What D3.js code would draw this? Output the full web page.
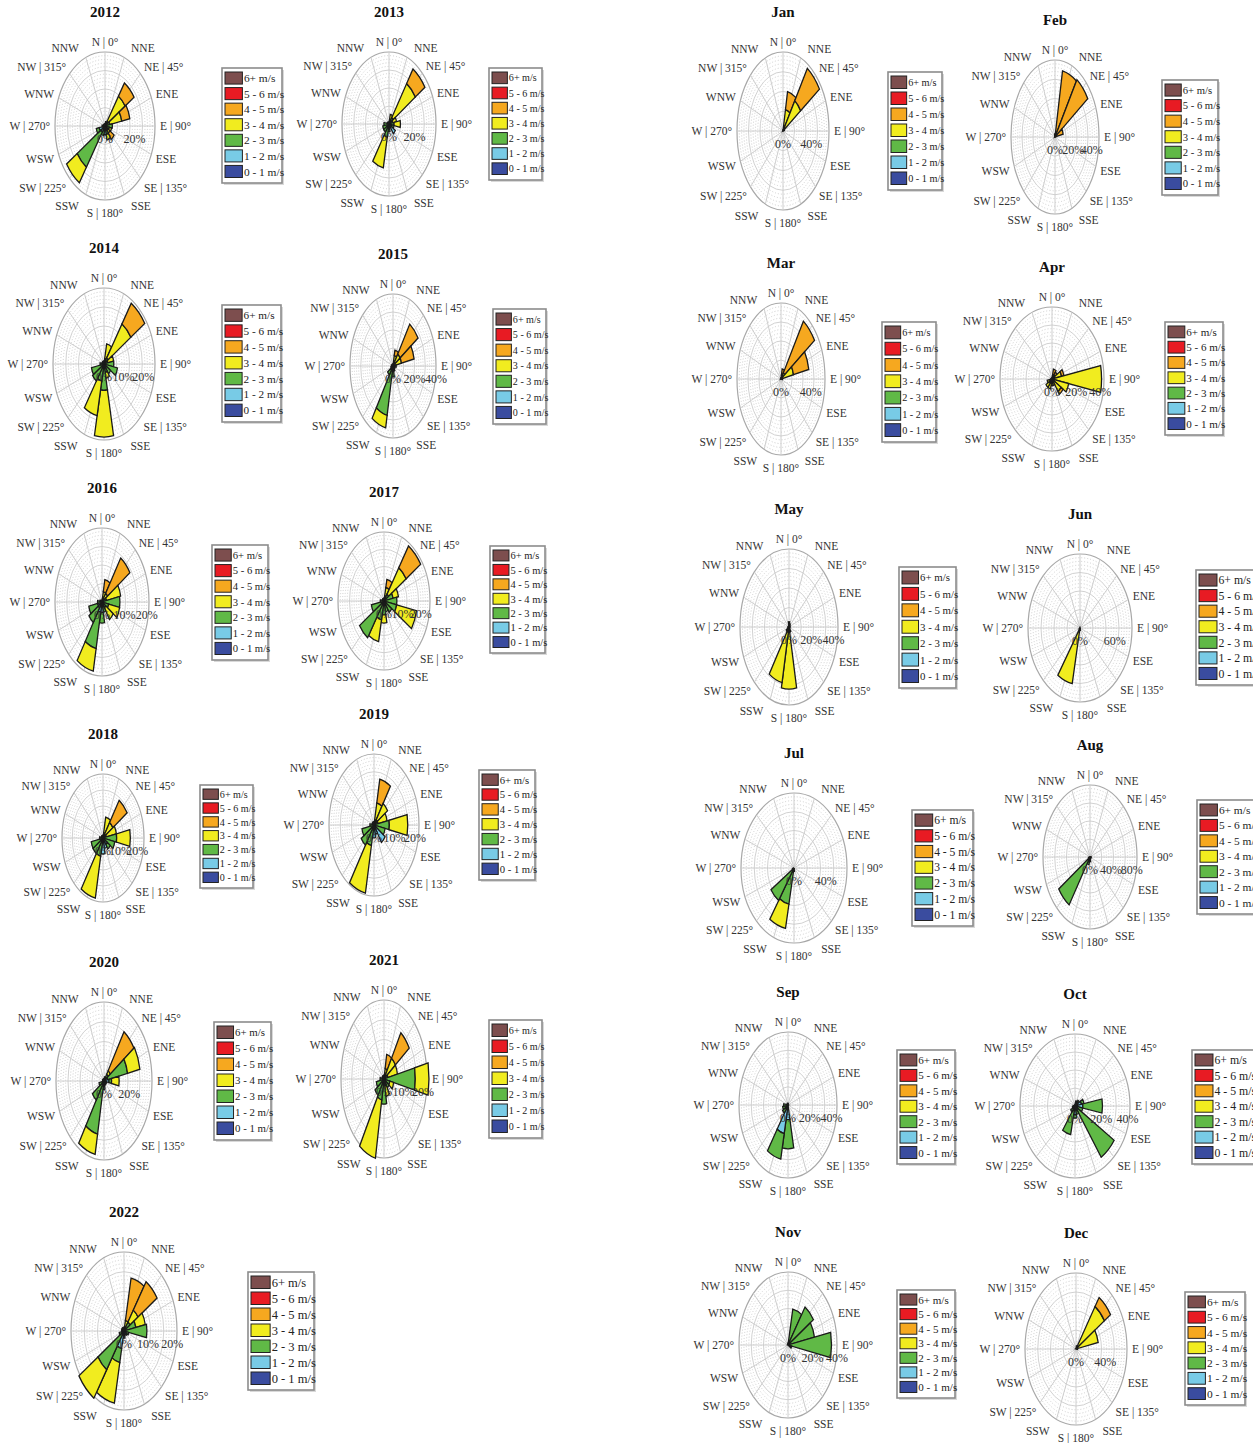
<!DOCTYPE html>
<html>
<head>
  <meta charset="utf8">
  <script src="https://d3js.org/d3.v7.min.js"></script>
  <style>
    body { margin: 0; background: #fff; }
    text { font-family: "Liberation Serif", "DejaVu Serif", serif; fill: #333; }
    .title { font-size: 15px; font-weight: bold; fill: #111; text-anchor: middle; }
    .dir { font-size: 11.5px; }
    .tick { font-size: 12px; text-anchor: middle; }
    .legend text { fill: #222; }
  </style>
</head>
<body>
  <svg id="chart" width="1253" height="1443"></svg>
  <script>
    // compass directions, clockwise from north
    var directions = ['N', 'NNE', 'NE', 'ENE', 'E', 'ESE', 'SE', 'SSE', 'S', 'SSW', 'SW', 'WSW', 'W', 'WNW', 'NW', 'NNW'];
    var dirLabels = ['N | 0°', 'NNE', 'NE | 45°', 'ENE', 'E | 90°', 'ESE', 'SE | 135°', 'SSE',
      'S | 180°', 'SSW', 'SW | 225°', 'WSW', 'W | 270°', 'WNW', 'NW | 315°', 'NNW'];
    var speedBins = ['0 - 1 m/s', '1 - 2 m/s', '2 - 3 m/s', '3 - 4 m/s', '4 - 5 m/s', '5 - 6 m/s', '6+ m/s'];

    var panels = ['2012', '2013', '2014', '2015', '2016', '2017', '2018', '2019', '2020', '2021', '2022',
      'Jan', 'Feb', 'Mar', 'Apr', 'May', 'Jun', 'Jul', 'Aug', 'Sep', 'Oct', 'Nov', 'Dec'];

    // frequency (%) per direction, split by speed bin: [0-1, 1-2, 2-3, 3-4, 4-5, 5-6, 6+]
    var rose2012 = [[0,0,1],[0,0,2],[0,0,2.6,13.9,7.3],[0,0,3.3,8.3,5.6],[0,0,5],[0,0,3,1.5],[0,0,2.5,1.5,3.5],[0,1.5,2.5,2.5],
      [0,4],[0,2.5,2],[0,3.3,19.5,8.6],[0,4,2],[0,0,2],[0,0,1],[0,0,1],[0,0,1]];
    var rose2013 = [[0,0,1],[0,0,2,3],[0,0,4,21,9],[0,0,3,3],[0,0,4,5],[0,2,2],[0,6],[0,2],
      [0,2,2],[0,0,7,16],[0,1,4],[0,1,4],[0,0,4],[0,0,1.5],[0,0,1],[0,0,1]];
    var rose2014 = [[0,0,1],[0,0,2,5],[0,0,2.5,14,8.5],[0,0,2,3],[0,0,5],[0,0,7],[0,0,4],[0,0,3,2],
      [0,0,9,16],[0,0,6,12],[0,0,7],[0,0,6.5],[0,0,2],[0,0,1],[0,0,1],[0,0,1]];
    var rose2015 = [[0,0,1],[0,0,3,3,3],[0,0,2,6,20],[0,0,2,6,12],[0,0,3],[0,0,2],[0,0,2],[0,1,2],
      [0,2,4],[0,2,26,7],[0,1,5],[0,0,2],[0,0,1.5],[0,0,1],[0,0,1],[0,0,1]];
    var rose2016 = [[0,0,0.5],[0,0,1,2,3.5],[0,0,1,2,12],[0,0,2,6.5],[0,0,8],[0,0,3,5],[0,0,2,4],[0,1,2],
      [0,3,3],[0,3,10.5,6.5],[0,2,5],[0,2,4],[0,0,2],[0,0,1],[0,0,0.5],[0,0,0.5]];
    var rose2017 = [[0,0,1],[0,0,2,3,3],[0,0,3,11.5,9.5],[0,0,5,3],[0,0,7],[0,0,7,11],[0,1,4],[0,1,3],
      [0,1,4,3],[0,0,7,8],[0,0,16],[0,1,6],[0,0,2],[0,0,1],[0,0,1],[0,0,1]];
    var rose2018 = [[0,0,1],[0,0,2,6],[0,0,1,6,10],[0,0,2,6],[0,0,8,8],[0,0,7],[0,3,2],[0,4],
      [0,6],[0,1,6,16],[0,0,7],[0,1,6],[0,0,2],[0,0,1],[0,0,1],[0,0,1]];
    var rose2019 = [[0,0,1],[0,0,1,6,7.5],[0,0,2,6],[0,0,2,4.5],[0,0,7.5,9],[0,0,5.5],[0,6.5],[0,3],
      [0,4],[0,0,6.5,15],[0,0,7.5],[0,1,5],[0,0,2],[0,0,1],[0,0,1],[0,0,1]];
    var rose2020 = [[0,0,1],[0,0,2],[0,2,2,2,22.5],[0,3,16,10],[0,4,2,6],[0,2],[0,2],[0,2],
      [0,4],[0,2,24,10],[0,2,9],[0,1,3],[0,0,1],[0,0,1],[0,0,1],[0,0,1]];
    var rose2021 = [[0,0,1],[0,0,1,2,4],[0,0,1,6,8.5],[0,0,2,5],[0,0,16,7],[0,0,3,2],[0,0,3],[0,0,2,3],
      [0,0,7],[0,0,6,16.5],[0,0,5.5],[0,0,4],[0,0,2],[0,0,1],[0,0,1],[0,0,1]];
    var rose2022 = [[0,0,1],[0,0,1,2,12],[0,0,3,4,9.5],[0,0,5,4],[0,0,9.5],[0,0,2],[0,0,1.5],[0,1],
      [0,2],[0,5,4,11.5],[0,1,12,9.5],[0,0,2],[0,0,1],[0,0,1],[0,0,1],[0,0,1]];
    var roseJan = [[0,0,0,1],[0,0,0,18,15],[0,0,0,30,32],[0,0,0,2],[],[],[],[],
      [],[],[],[],[],[],[],[]];
    var roseFeb = [[0,0,1,1],[0,0,0,1,41],[0,0,0,1,42],[0,0,0,1,8],[],[],[],[],
      [],[],[],[],[],[],[],[]];
    var roseMar = [[0,0,0,1],[0,0,0,3,5],[0,0,0,6,48],[0,0,0,17,21],[0,0,0,2],[],[],[],
      [],[],[],[],[],[],[],[]];
    var roseApr = [[0,0,0,1],[0,0,0,2,4],[0,0,0,3,2],[0,0,0,8,2],[0,0,2,39],[0,0,1,13],[0,0,1,8,2],[0,0,0,4],
      [0,0,1,3],[0,0,2,4],[0,0,3,3],[0,0,2,2],[0,0,0,1],[],[],[]];
    var roseMay = [[0,0,1,2],[0,0,1,1],[0,0,1],[0,0,0.5],[0,0,0.5],[0,0,0.5],[0,0,0.5],[0,0,1,2],
      [0,0,3,32],[0,0,3,29],[0,0,1,2],[0,0,0.5],[0,0,0.5],[0,0,0.5],[0,0,0.5],[0,0,0.5]];
    var roseJun = [[0,0,0,1],[],[],[],[],[],[],[],
      [0,0,0,3],[0,0,1,68],[0,0,0,2],[],[],[],[],[]];
    var roseJul = [[],[],[],[],[],[],[],[],
      [0,0,3],[0,0,33,22],[0,0,35],[0,0,2],[],[],[],[]];
    var roseAug = [[],[],[],[],[0,0,2],[0,0,2],[],[0,0,2],
      [0,0,6],[0,0,10],[0,0,72],[0,0,3],[],[],[],[]];
    var roseSep = [[0,0,1],[],[],[],[],[],[],[],
      [0,9,18],[0,18,16],[0,3,3],[0,2,3],[0,1,3],[],[0,0,1],[0,0,1]];
    var roseOct = [[0,1],[0,2,1],[0,3,1],[0,5,2],[0,6,15],[0,2,4],[0,2,34],[0,3,2],
      [0,5,2],[0,3,14],[0,2,2],[0,1,1],[0,1,0.5],[],[],[]];
    var roseNov = [[0,0,1],[0,0,20],[0,0,25],[0,0,22],[0,0,35.5],[0,0,3],[],[],
      [],[],[],[],[],[],[],[]];
    var roseDec = [[],[0,0,0,3],[0,0,0,47,10],[0,0,0,31],[0,0,0,2],[],[],[],
      [],[],[],[],[],[],[],[]];

    var roseData = [rose2012, rose2013, rose2014, rose2015, rose2016, rose2017, rose2018, rose2019, rose2020,
      rose2021, rose2022, roseJan, roseFeb, roseMar, roseApr, roseMay, roseJun, roseJul, roseAug, roseSep,
      roseOct, roseNov, roseDec];

    // outer circle value (%) and the labelled frequencies of each rose
    var axisMax = [34, 37, 26, 40, 21, 25, 24, 22, 38, 22, 22, 65, 48, 59, 43, 44, 90, 67, 90, 45, 42, 40, 70];
    var tickLabels = [[0, 20], [0, 20], [0, 10, 20], [0, 20, 40], [0, 10, 20], [0, 10, 20], [0, 10, 20], [0, 10, 20],
      [0, 20], [0, 10, 20], [0, 10, 20], [0, 40], [0, 20, 40], [0, 40], [0, 20, 40], [0, 20, 40], [0, 60], [0, 40],
      [0, 40, 80], [0, 20, 40], [0, 20, 40], [0, 20, 40], [0, 40]];

    var colors = ['#3a4c9f', '#78cbe6', '#60b946', '#f1ec1f', '#f6a81f', '#e81b23', '#7d4e4e'];

    // page layout: rose centre and radii (the roses are squeezed sideways), legend box
    var layout = [
      { cx: 105, cy: 126, rx: 50, ry: 74, lx: 222, ly: 68, lw: 60, lh: 115 },
      { cx: 389, cy: 124, rx: 47, ry: 72, lx: 489, ly: 68, lw: 53, lh: 112 },
      { cx: 104, cy: 364, rx: 51, ry: 76, lx: 222, ly: 305, lw: 59, lh: 117 },
      { cx: 393, cy: 366, rx: 43, ry: 72, lx: 493, ly: 309, lw: 53, lh: 115 },
      { cx: 102, cy: 602, rx: 47, ry: 74, lx: 212, ly: 545, lw: 56, lh: 115 },
      { cx: 384, cy: 601, rx: 46, ry: 69, lx: 490, ly: 546, lw: 55, lh: 107 },
      { cx: 103, cy: 838, rx: 41, ry: 64, lx: 200, ly: 785, lw: 53, lh: 103 },
      { cx: 374, cy: 825, rx: 45, ry: 71, lx: 479, ly: 770, lw: 56, lh: 110 },
      { cx: 104, cy: 1081, rx: 48, ry: 79, lx: 214, ly: 1022, lw: 57, lh: 118 },
      { cx: 384, cy: 1079, rx: 43, ry: 79, lx: 489, ly: 1020, lw: 53, lh: 118 },
      { cx: 124, cy: 1331, rx: 53, ry: 79, lx: 248, ly: 1272, lw: 66, lh: 118 },
      { cx: 783, cy: 131, rx: 46, ry: 79, lx: 888, ly: 72, lw: 54, lh: 118 },
      { cx: 1055, cy: 137, rx: 44, ry: 77, lx: 1162, ly: 80, lw: 56, lh: 115 },
      { cx: 781, cy: 379, rx: 44, ry: 76, lx: 882, ly: 322, lw: 54, lh: 120 },
      { cx: 1052, cy: 379, rx: 52, ry: 72, lx: 1165, ly: 322, lw: 58, lh: 113 },
      { cx: 789, cy: 627, rx: 49, ry: 78, lx: 899, ly: 567, lw: 57, lh: 121 },
      { cx: 1080, cy: 628, rx: 52, ry: 74, lx: 1196, ly: 570, lw: 62, lh: 115 },
      { cx: 794, cy: 868, rx: 53, ry: 75, lx: 912, ly: 810, lw: 61, lh: 116 },
      { cx: 1090, cy: 857, rx: 47, ry: 72, lx: 1197, ly: 800, lw: 60, lh: 114 },
      { cx: 788, cy: 1105, rx: 49, ry: 73, lx: 897, ly: 1050, lw: 58, lh: 114 },
      { cx: 1075, cy: 1106, rx: 55, ry: 72, lx: 1192, ly: 1050, lw: 62, lh: 114 },
      { cx: 788, cy: 1345, rx: 49, ry: 73, lx: 897, ly: 1290, lw: 58, lh: 108 },
      { cx: 1076, cy: 1349, rx: 51, ry: 76, lx: 1185, ly: 1292, lw: 60, lh: 113 }
    ];

    var chart = d3.select('#chart');
    var sector = 2 * Math.PI / directions.length;

    panels.forEach(function (name, i) {
      var L = layout[i];
      var data = roseData[i];
      var r = d3.scaleLinear().domain([0, axisMax[i]]).range([0, 100]);
      var angle = d3.scaleLinear().domain([0, directions.length]).range([0, 2 * Math.PI]);
      var g = chart.append('g');

      g.append('text')
        .attr('class', 'title')
        .attr('x', L.cx)
        .attr('y', L.cy - L.ry - 35)
        .text(name);

      // rose drawn on a unit circle of radius 100, then squeezed to rx / ry
      var rose = g.append('g')
        .attr('transform', 'translate(' + L.cx + ',' + L.cy + ') scale(' + (L.rx / 100) + ',' + (L.ry / 100) + ')');

      var minor = d3.range(1, 20).map(function (k) { return 5 * k; }).filter(function (v) { return v % 25 !== 0; });
      rose.selectAll('.minor')
        .data(minor)
        .enter()
        .append('circle')
        .attr('r', function (d) { return d; })
        .attr('fill', 'none')
        .attr('stroke', '#cfcfcf')
        .attr('stroke-dasharray', '1,2')
        .attr('vector-effect', 'non-scaling-stroke');

      rose.selectAll('.major')
        .data([25, 50, 75, 100])
        .enter()
        .append('circle')
        .attr('r', function (d) { return d; })
        .attr('fill', 'none')
        .attr('stroke', function (d) { return d === 100 ? '#a8a8a8' : '#cccccc'; })
        .attr('stroke-width', function (d) { return d === 100 ? 1.2 : 0.9; })
        .attr('vector-effect', 'non-scaling-stroke');

      rose.selectAll('.spoke')
        .data(directions)
        .enter()
        .append('line')
        .attr('x2', function (d, j) { return 100 * Math.sin(angle(j)); })
        .attr('y2', function (d, j) { return -100 * Math.cos(angle(j)); })
        .attr('stroke', '#c8c8c8')
        .attr('stroke-width', 0.9)
        .attr('vector-effect', 'non-scaling-stroke');

      // frequency labels, just below the east spoke
      g.selectAll('.tick')
        .data(tickLabels[i])
        .enter()
        .append('text')
        .attr('class', 'tick')
        .attr('x', function (d) { return L.cx + r(d) / 100 * L.rx; })
        .attr('y', L.cy + 17)
        .text(function (d) { return d + '%'; });

      // stacked wedges
      var arc = d3.arc();
      data.forEach(function (bins, j) {
        var acc = 0;
        bins.forEach(function (v, b) {
          if (!v) return;
          rose.append('path')
            .attr('d', arc({
              innerRadius: r(acc),
              outerRadius: r(acc + v),
              startAngle: angle(j) - sector / 2,
              endAngle: angle(j) + sector / 2
            }))
            .attr('fill', colors[b])
            .attr('stroke', '#1a1a1a')
            .attr('stroke-width', 1.3)
            .attr('vector-effect', 'non-scaling-stroke');
          acc += v;
        });
      });

      // direction labels round the ellipse
      g.selectAll('.dir')
        .data(dirLabels)
        .enter()
        .append('text')
        .attr('class', 'dir')
        .attr('x', function (d, j) {
          var s = Math.sin(angle(j));
          var push = Math.abs(s) > 0.3 && Math.abs(s) < 0.5 ? 5 * Math.sign(s) : 0;
          return L.cx + (L.rx + 5) * s + push;
        })
        .attr('y', function (d, j) {
          var c = Math.cos(angle(j));
          return L.cy - (L.ry + (c > 0 ? 10 : 13)) * c;
        })
        .attr('dy', '0.35em')
        .attr('text-anchor', function (d, j) {
          var s = Math.sin(angle(j));
          return s > 0.3 ? 'start' : (s < -0.3 ? 'end' : 'middle');
        })
        .text(function (d) { return d; });

      // legend
      var lg = g.append('g')
        .attr('class', 'legend')
        .attr('transform', 'translate(' + L.lx + ',' + L.ly + ')');
      lg.append('rect')
        .attr('x', 2).attr('y', 2)
        .attr('width', L.lw).attr('height', L.lh)
        .attr('fill', '#d9d9d9');
      lg.append('rect')
        .attr('width', L.lw).attr('height', L.lh)
        .attr('fill', '#fff')
        .attr('stroke', '#8c8c8c')
        .attr('stroke-width', 1.6);
      var rowH = (L.lh - 6) / speedBins.length;
      var sw = L.lw * 0.29;
      var fs = L.lw * 0.19;
      var rows = lg.selectAll('.row')
        .data(d3.range(speedBins.length - 1, -1, -1))
        .enter()
        .append('g')
        .attr('transform', function (b, k) { return 'translate(3,' + (4 + k * rowH) + ')'; });
      rows.append('rect')
        .attr('width', sw)
        .attr('height', rowH - 3.5)
        .attr('fill', function (b) { return colors[b]; })
        .attr('stroke', '#222')
        .attr('stroke-width', 1);
      rows.append('text')
        .attr('x', sw + 1.5)
        .attr('y', (rowH - 3.5) / 2)
        .attr('dy', '0.36em')
        .style('font-size', fs + 'px')
        .text(function (b) { return speedBins[b]; });
    });
  </script>
</body>
</html>
